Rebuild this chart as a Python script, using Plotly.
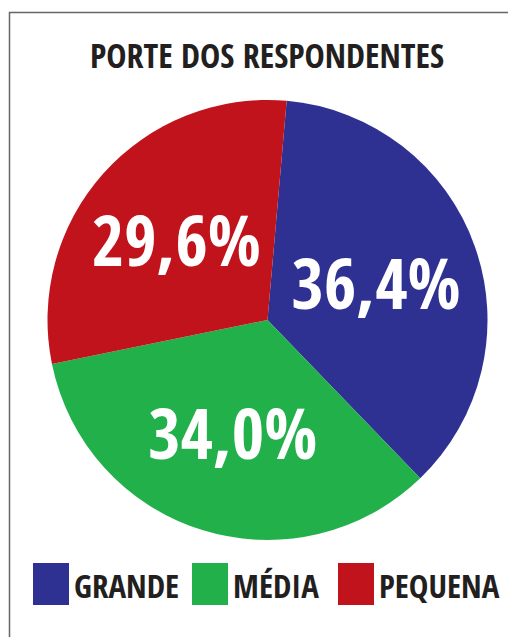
import plotly.graph_objects as go

categorias = ['GRANDE', 'MÉDIA', 'PEQUENA']
percentuais = [36.4, 34.0, 29.6]
cores = ['#2E3192', '#22B04B', '#C1131C']

# a página tem margem de 8px no body, então a figura é 8px menor
W, H = 508, 629
FONTE = 'Open Sans Condensed, Roboto Condensed, sans-serif'

rotulos = [f'{v:.1f}'.replace('.', ',') + '%' for v in percentuais]

fig = go.Figure()
fig.add_trace(go.Pie(
    labels=categorias, values=percentuais, text=rotulos,
    textinfo='text', textposition='inside', insidetextorientation='horizontal',
    textfont=dict(family=FONTE, size=70, color='white', weight='bold'),
    marker=dict(colors=cores, line=dict(width=0)),
    sort=False, direction='clockwise', rotation=5,
    domain=dict(x=[39.5 / W, 479.5 / W], y=[1 - 532 / H, 1 - 92 / H]),
    showlegend=False, hoverinfo='label+percent',
))

# moldura
fig.add_shape(type='rect', xref='paper', yref='paper',
              x0=1.5 / W, x1=1.02, y0=-0.02, y1=1 - 4.5 / H,
              line=dict(color='#666666', width=1.5))

# legenda manual (quadrados grandes)
leg_x = [25, 184, 330]
for cat, cor, x in zip(categorias, cores, leg_x):
    fig.add_shape(type='rect', xref='paper', yref='paper',
                  x0=x / W, x1=(x + 36) / W, y0=1 - 597 / H, y1=1 - 555 / H,
                  fillcolor=cor, line=dict(width=0))
    fig.add_annotation(x=(x + 39) / W, y=1 - 577 / H, xref='paper', yref='paper',
                       text=cat, showarrow=False, xanchor='left', yanchor='middle',
                       font=dict(family=FONTE, size=33, color='#231F20', weight='bold'))

fig.update_layout(
    width=W, height=H,
    margin=dict(l=0, r=0, t=0, b=0),
    paper_bgcolor='white', plot_bgcolor='white',
    title=dict(text='PORTE DOS RESPONDENTES', x=259 / W, xanchor='center',
               y=1 - 48 / H, yanchor='middle',
               font=dict(family=FONTE, size=34, color='#231F20', weight='bold')),
)

fig.write_html('out.html')
